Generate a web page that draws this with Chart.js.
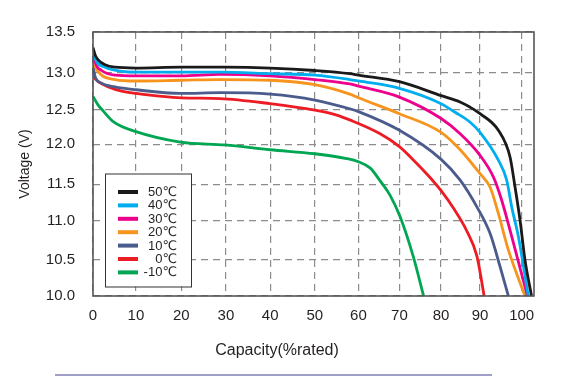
<!DOCTYPE html>
<html>
<head>
<meta charset="utf-8">
<script src="https://cdn.jsdelivr.net/npm/chart.js@4.4.1/dist/chart.umd.min.js"></script>
<style>
  html, body { margin: 0; padding: 0; background: #fff; }
  #wrap { position: relative; width: 585px; height: 376px; }
</style>
</head>
<body>
<div id="wrap"><canvas id="discharge" width="585" height="376"></canvas></div>
<script>
const seriesLabels = ['50℃', '40℃', '30℃', '20℃', '10℃', '0℃', '-10℃'];
const seriesColors = ['#1a1a1a', '#00aeef', '#ec008c', '#f7941d', '#4b5b8c', '#ed1c24', '#00a651'];

// capacity (%rated) / voltage (V)
const cap50 = [0, 0.5, 1.2, 2.8, 5.1, 10, 20, 30, 40, 50, 58, 60, 70, 80, 85, 87.5, 90, 94.4, 97.2, 98.4, 99.6, 100.8, 102.4];
const volt50 = [13.31, 13.22, 13.16, 13.10, 13.07, 13.06, 13.07, 13.07, 13.06, 13.03, 12.99, 12.97, 12.88, 12.69, 12.60, 12.53, 12.44, 12.20, 11.84, 11.46, 11.01, 10.50, 10.00];

const cap40 = [0, 0.8, 2.8, 6.7, 10, 20, 28.7, 40, 50, 58, 60, 70, 80, 83.6, 87.4, 90, 94.4, 96.4, 97.6, 99.2, 101.6];
const volt40 = [13.26, 13.14, 13.07, 13.02, 13.01, 13.01, 13.01, 12.99, 12.97, 12.91, 12.89, 12.79, 12.58, 12.46, 12.32, 12.17, 11.80, 11.55, 11.19, 10.80, 10.00];

const cap30 = [0, 0.5, 2.0, 5.1, 10, 20, 28.7, 40, 50, 58, 60, 70, 80, 84.9, 90, 93.2, 95.2, 97.6, 101.4];
const volt30 = [13.27, 13.13, 13.03, 12.97, 12.96, 12.96, 12.98, 12.96, 12.91, 12.85, 12.82, 12.67, 12.37, 12.15, 11.86, 11.59, 11.28, 10.80, 10.00];

const cap20 = [0, 0.5, 2.0, 5.1, 10, 20, 28.7, 40, 50, 58, 60, 70, 80, 84.9, 90, 92.4, 94.4, 96.8, 100.8];
const volt20 = [13.18, 13.08, 12.97, 12.91, 12.89, 12.90, 12.91, 12.90, 12.84, 12.71, 12.66, 12.44, 12.17, 11.93, 11.63, 11.46, 11.10, 10.63, 10.00];

const cap10 = [0, 0.5, 2.0, 5.1, 10, 20, 28.7, 40, 50, 58, 60, 70, 80, 84.9, 89.2, 92.4, 94.8, 96.8];
const volt10 = [13.09, 12.95, 12.86, 12.81, 12.77, 12.72, 12.73, 12.71, 12.63, 12.51, 12.47, 12.20, 11.81, 11.55, 11.19, 10.84, 10.41, 10.00];

const cap0 = [0, 1.2, 3.6, 6.7, 10, 20, 28.7, 40, 50, 55, 58, 65.3, 70, 73.4, 77.4, 80, 83.2, 86.6, 89.2, 91.0];
const volt0 = [12.95, 12.88, 12.81, 12.75, 12.72, 12.66, 12.65, 12.58, 12.49, 12.42, 12.35, 12.15, 11.97, 11.80, 11.58, 11.41, 11.17, 10.87, 10.55, 10.00];

const capM10 = [0, 1.2, 2.5, 4.8, 10, 19.8, 29.8, 40, 50, 57.3, 60, 62.9, 65.3, 67.7, 70.2, 73.4, 75.8];
const voltM10 = [12.68, 12.56, 12.47, 12.32, 12.18, 12.03, 11.99, 11.93, 11.88, 11.82, 11.78, 11.70, 11.54, 11.35, 11.05, 10.53, 10.00];

const capSeries = [cap50, cap40, cap30, cap20, cap10, cap0, capM10];
const voltSeries = [volt50, volt40, volt30, volt20, volt10, volt0, voltM10];

const xTicks = [0, 10, 20, 30, 40, 50, 60, 70, 80, 90, 100];
const yTicks = [10, 10.5, 11, 11.5, 12, 12.5, 13, 13.5];

// the printed grid is not evenly spaced, so each axis maps value -> fraction of its length piecewise
const warps = {
    x: { values: [0, 10, 20, 30, 40, 50, 60, 70, 80, 90, 100, 103],
         fracs: [0, 0.0974, 0.2001, 0.3014, 0.4018, 0.5031, 0.6019, 0.6948, 0.7893, 0.8776, 0.9721, 1] },
    y: { values: [10, 10.5, 11, 11.5, 12, 12.5, 13, 13.5],
         fracs: [0, 0.1362, 0.2849, 0.4238, 0.5751, 0.7064, 0.8449, 1] }
};

function lerpTable(v, from, to) {
    let i = 1;
    while (i < from.length - 1 && v > from[i]) i++;
    const t = (v - from[i - 1]) / (from[i] - from[i - 1]);
    return to[i - 1] + t * (to[i] - to[i - 1]);
}

class WarpScale extends Chart.LinearScale {
    getPixelForValue(value) {
        if (value === null || value === undefined || isNaN(value)) return NaN;
        const w = warps[this.id];
        return this.getPixelForDecimal(lerpTable(value, w.values, w.fracs));
    }
    getValueForPixel(pixel) {
        const w = warps[this.id];
        return lerpTable(this.getDecimalForPixel(pixel), w.fracs, w.values);
    }
}
WarpScale.id = 'warp';
WarpScale.defaults = Chart.LinearScale.defaults;
Chart.register(WarpScale);

const textColor = '#231f20';
const baseFont = '"Liberation Sans", Arial, "DejaVu Sans", sans-serif';

const decorPlugin = {
    id: 'decor',
    afterDatasetsDraw(chart) {
        const { ctx, chartArea: a } = chart;
        ctx.save();

        // plot frame
        ctx.strokeStyle = '#555';
        ctx.lineWidth = 1.6;
        ctx.strokeRect(a.left, a.top, a.right - a.left, a.bottom - a.top);

        // legend box inside the plot
        const bx = a.left + 12, by = a.top + 141.5, bw = 86, bh = 113;
        ctx.fillStyle = '#fff';
        ctx.fillRect(bx, by, bw, bh);
        ctx.strokeStyle = '#333';
        ctx.lineWidth = 1;
        ctx.strokeRect(bx + 0.5, by + 0.5, bw, bh);

        ctx.font = '13px ' + baseFont;
        ctx.textAlign = 'right';
        ctx.textBaseline = 'middle';
        chart.data.datasets.forEach((ds, i) => {
            const ry = by + 18.5 + i * 13.4;
            ctx.strokeStyle = ds.borderColor;
            ctx.lineWidth = 4;
            ctx.beginPath();
            ctx.moveTo(bx + 13, ry);
            ctx.lineTo(bx + 33, ry);
            ctx.stroke();
            ctx.fillStyle = textColor;
            ctx.fillText(ds.label, bx + 72, ry + 0.5);
        });

        // x axis title sits left of the plot centre in the original
        ctx.font = '16px ' + baseFont;
        ctx.textAlign = 'center';
        ctx.fillStyle = textColor;
        ctx.fillText('Capacity(%rated)', a.left + 184, a.bottom + 55);

        // rule under the figure
        ctx.strokeStyle = '#8080b6';
        ctx.lineWidth = 1.5;
        ctx.beginPath();
        ctx.moveTo(55, 375);
        ctx.lineTo(492, 375);
        ctx.stroke();

        ctx.restore();
    }
};

const gridStyle = { color: '#8c8c8c', lineWidth: 1.2, drawTicks: false };
const borderStyle = { display: false, dash: [7, 5] };

new Chart(document.getElementById('discharge').getContext('2d'), {
    type: 'line',
    data: {
        datasets: seriesLabels.map((label, i) => ({
            label,
            data: capSeries[i].map((c, j) => ({ x: c, y: voltSeries[i][j] })),
            borderColor: seriesColors[i],
            backgroundColor: seriesColors[i],
            borderWidth: 2.8,
            pointRadius: 0,
            cubicInterpolationMode: 'monotone',
            fill: false
        }))
    },
    options: {
        responsive: false,
        animation: false,
        layout: { padding: { left: 0, right: 51, top: 32, bottom: 0 } },
        plugins: {
            legend: { display: false },
            tooltip: { enabled: false }
        },
        scales: {
            x: {
                type: 'warp',
                min: 0,
                max: 103,
                grid: gridStyle,
                border: borderStyle,
                afterBuildTicks: s => { s.ticks = xTicks.map(v => ({ value: v })); },
                afterFit: s => { s.height = 80; },
                ticks: {
                    padding: 11,
                    color: textColor,
                    font: { family: baseFont, size: 15 },
                    maxRotation: 0,
                    callback: v => String(v)
                }
            },
            y: {
                type: 'warp',
                min: 10,
                max: 13.5,
                grid: gridStyle,
                border: borderStyle,
                afterBuildTicks: s => { s.ticks = yTicks.map(v => ({ value: v })); },
                afterFit: s => { s.width = 93; },
                ticks: {
                    padding: 18,
                    color: textColor,
                    font: { family: baseFont, size: 15 },
                    callback: v => Number(v).toFixed(1)
                },
                title: {
                    display: true,
                    text: 'Voltage (V)',
                    color: textColor,
                    font: { family: baseFont, size: 14 },
                    padding: { top: 17, bottom: 0 }
                }
            }
        }
    },
    plugins: [decorPlugin]
});
</script>
</body>
</html>
